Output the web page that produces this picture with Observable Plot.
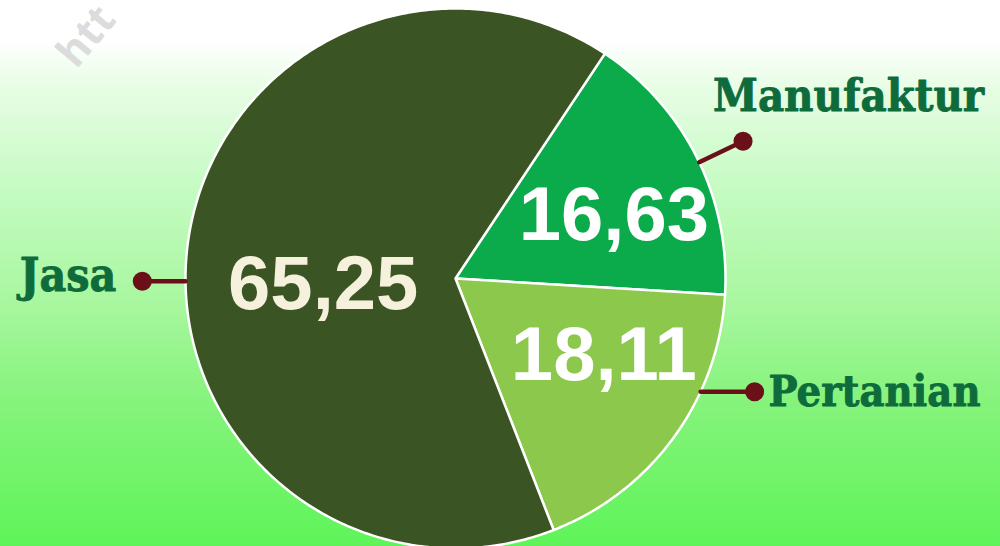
<!DOCTYPE html>
<html>
<head>
<meta charset="utf-8">
<script src="https://cdn.jsdelivr.net/npm/d3@7"></script>
<script src="https://cdn.jsdelivr.net/npm/@observablehq/plot@0.6"></script>
<style>
html, body { margin: 0; padding: 0; width: 1000px; height: 546px; overflow: hidden; }
body {
  background: linear-gradient(to bottom, #ffffff 0px, #ffffff 40px, #e6fde3 90px, #c2fbbf 200px, #a9f7a0 300px, #86f37c 400px, #5ef459 546px);
  position: relative;
}
#chart { position: absolute; left: 0; top: 0; }
</style>
</head>
<body>
<div id="chart"></div>
<script>
// ---- data ----
const categories = ["Manufaktur", "Pertanian", "Jasa"];
const values = [16.63, 18.11, 65.25];
const valueLabels = ["16,63", "18,11", "65,25"];
const colors = ["#0bab4b", "#8cc84b", "#3b5423"];
const watermark = ["htt"];

// ---- layout (not data) ----
const startAngle = 33.6 * Math.PI / 180;
const labelLayout = { Manufaktur: [1.16, 0.64], Pertanian: [2.02, 0.61], Jasa: [4.71, 0.49] }; // angle(rad), radius
const leaderLayout = {
  Manufaktur: { angle: 64.5, kind: "radial", len: 0.18 },
  Pertanian: { angle: 114.8, kind: "right", len: 0.2 },
  Jasa: { angle: 269.4, kind: "left", len: 0.16 }
};

const pie = d3.pie().sort(null).value(d => d.value)
  .startAngle(startAngle).endAngle(startAngle + 2 * Math.PI);
const rows = categories.map((c, i) => ({ category: c, value: values[i], label: valueLabels[i], color: colors[i] }));
const arcs = pie(rows);

const pt = (a, r) => ({ x: r * Math.sin(a), y: r * Math.cos(a) });

// slice polygons
const slicePts = [];
arcs.forEach(a => {
  slicePts.push({ category: a.data.category, x: 0, y: 0 });
  const n = Math.max(8, Math.ceil((a.endAngle - a.startAngle) * 80));
  for (let k = 0; k <= n; k++) {
    const t = a.startAngle + (a.endAngle - a.startAngle) * k / n;
    slicePts.push({ category: a.data.category, ...pt(t, 1) });
  }
});

// value labels
const valuePts = arcs.map(a => {
  const [ang, r] = labelLayout[a.data.category];
  return { ...pt(ang, r), label: a.data.label, category: a.data.category };
});

// leaders
const leaderLines = [], leaderDots = [], catLabels = [];
arcs.forEach(a => {
  const c = a.data.category, L = leaderLayout[c];
  const ang = L.angle * Math.PI / 180;
  const s = pt(ang, 1.0);
  let e;
  if (L.kind === "radial") e = pt(ang, 1 + L.len);
  else if (L.kind === "right") e = { x: s.x + L.len, y: s.y };
  else e = { x: s.x - L.len, y: s.y };
  leaderLines.push({ category: c, x: s.x, y: s.y }, { category: c, x: e.x, y: e.y });
  leaderDots.push({ category: c, ...e });
  catLabels.push({ category: c, ...e });
});

const catFont = "DejaVu Serif Condensed, DejaVu Serif, serif";
const R = 270, cx = 455, cy = 278;
const chart = Plot.plot({
  width: 1000, height: 546,
  margin: 0,
  style: { background: "transparent", overflow: "visible" },
  x: { domain: [-1, 1], range: [cx - R, cx + R], axis: null },
  y: { domain: [-1, 1], range: [cy + R, cy - R], axis: null },
  color: { domain: categories, range: colors },
  marks: [
    Plot.text(watermark, {
      text: d => d, frameAnchor: "top-left", dx: 86, dy: 36, rotate: -50,
      fill: "#dcdcdc", fontSize: 42, fontWeight: "bold", fontFamily: "Open Sans, sans-serif",
      textAnchor: "middle", lineAnchor: "middle"
    }),
    Plot.line(slicePts, { x: "x", y: "y", z: "category", fill: "category", stroke: "#ffffff", strokeWidth: 2.5, curve: "linear-closed", strokeLinejoin: "round" }),
    Plot.line(leaderLines, { x: "x", y: "y", z: "category", stroke: "#6b1018", strokeWidth: 4.5 }),
    Plot.dot(leaderDots, { x: "x", y: "y", r: 9.5, fill: "#6b1018" }),
    Plot.text(valuePts, {
      x: "x", y: "y", text: "label", dy: 6,
      fill: d => d.category === "Jasa" ? "#f6f1dc" : "#ffffff",
      fontSize: 76, fontWeight: "bold", fontFamily: "Liberation Sans, Arial, sans-serif",
      textAnchor: "middle", lineAnchor: "middle"
    }),
    Plot.text(catLabels.filter(d => d.category === "Manufaktur"), {
      x: "x", y: "y", text: "category", dx: -30, dy: -45,
      fill: "#0e6b3b", stroke: "#0e6b3b", strokeWidth: 0.8, fontSize: 45, fontWeight: "bold", fontFamily: catFont,
      textAnchor: "start", lineAnchor: "middle"
    }),
    Plot.text(catLabels.filter(d => d.category === "Pertanian"), {
      x: "x", y: "y", text: "category", dx: 14, dy: 0,
      fill: "#0e6b3b", stroke: "#0e6b3b", strokeWidth: 0.8, fontSize: 43, fontWeight: "bold", fontFamily: catFont,
      textAnchor: "start", lineAnchor: "middle"
    }),
    Plot.text(catLabels.filter(d => d.category === "Jasa"), {
      x: "x", y: "y", text: "category", dx: -26, dy: -5,
      fill: "#0e6b3b", stroke: "#0e6b3b", strokeWidth: 0.8, fontSize: 46, fontWeight: "bold", fontFamily: catFont,
      textAnchor: "end", lineAnchor: "middle"
    })
  ]
});
document.getElementById("chart").appendChild(chart);
</script>
</body>
</html>
